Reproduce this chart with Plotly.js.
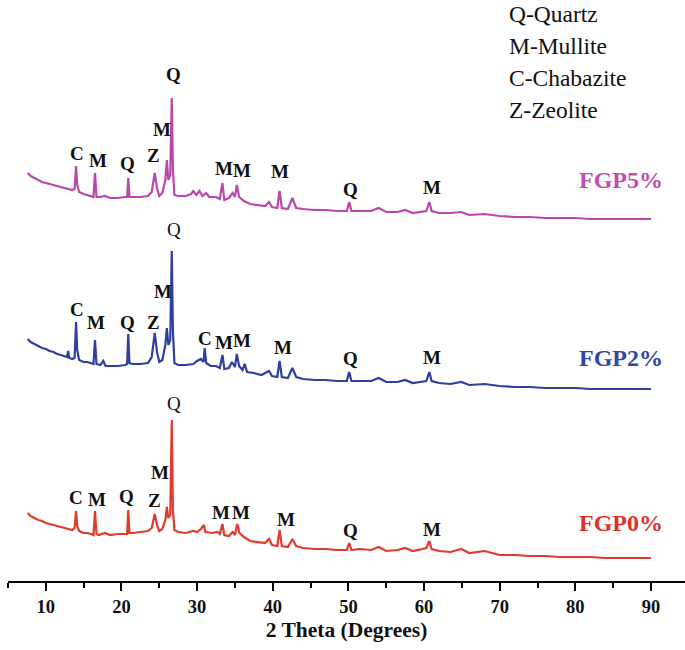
<!DOCTYPE html>
<html><head><meta charset="utf-8">
<script src="https://cdn.plot.ly/plotly-3.0.1.min.js"></script>
<style>html,body{margin:0;padding:0;background:#fff}#chart{width:685px;height:650px}</style>
</head><body><div id="chart"></div>
<script>
// ---- data (2θ in degrees, intensity in arbitrary units) ----
const xFGP0 = [7.6,8.0,8.5,9.0,9.5,10.0,10.5,11.0,11.5,12.0,12.5,13.0,13.5,13.8,14.0,14.15,14.4,15.0,15.5,16.0,16.3,16.5,16.7,17.0,17.8,18.5,19.5,20.5,20.75,20.9,21.05,21.5,22.5,23.5,24.0,24.4,24.7,25.0,25.4,25.8,26.0,26.2,26.45,26.65,26.8,27.0,27.5,28.5,29.5,30.0,30.5,30.9,31.1,32.0,32.7,33.0,33.35,33.6,34.2,34.7,35.0,35.3,35.6,36.2,37.0,38.0,39.0,39.5,39.9,40.6,40.9,41.2,42.0,42.6,43.1,44.0,45.5,47.0,48.5,49.8,50.1,50.4,51.5,53.0,54.0,55.0,56.5,57.5,58.5,59.8,60.3,60.7,61.0,62.0,63.5,64.9,66.0,68.0,70.0,72.0,74.0,76.0,78.0,80.0,82.0,84.0,86.0,88.0,90.0];
const yFGP0 = [45,42,40,38,37,35,34,33,32,31,30,29,28,30,47,32,27,25,25,24,23,47,24,23,25,23,24,24,24,48,25,25,26,27,30,44,33,27,29,38,51,40,43,138,48,28,26,25,27,26,29,33,26,25,26,24,34,23,22,26,23,34,25,21,17,16,15,19,13,12,28,12,11,19,12,10,9,9,8,8,15,8,9,8,11,7,8,10,7,9,10,17,9,7,6,9,5,7,3,3,2,2,1,1,1,0,0,0,0];

const xFGP2 = [7.6,8.0,8.5,9.0,9.5,10.0,10.5,11.0,11.5,12.0,12.5,12.8,12.95,13.1,13.5,13.8,14.0,14.15,14.4,15.0,15.5,16.0,16.3,16.5,16.7,17.2,17.6,17.9,18.5,19.5,20.5,20.75,20.9,21.05,21.5,22.5,23.5,24.0,24.4,24.7,25.0,25.4,25.8,26.0,26.2,26.45,26.65,26.8,27.0,27.5,28.5,29.5,30.0,30.5,30.85,31.0,31.2,31.8,32.5,33.0,33.35,33.6,34.2,34.6,35.0,35.25,35.55,36.0,36.3,36.6,37.5,38.5,39.5,39.9,40.6,40.9,41.2,42.0,42.6,43.1,44.0,45.5,47.0,48.5,49.8,50.1,50.4,51.5,53.0,54.0,55.0,56.5,57.5,58.5,59.8,60.3,60.7,61.0,62.0,63.5,64.9,66.0,68.0,70.0,72.0,74.0,76.0,78.0,80.0,82.0,84.0,86.0,88.0,90.0];
const yFGP2 = [50,47,45,43,41,40,38,37,35,34,33,32,38,31,30,31,67,39,29,27,27,26,25,49,25,24,28,23,23,23,24,25,55,26,25,25,26,32,56,37,27,29,44,61,44,49,138,59,26,24,24,25,28,30,27,41,26,23,23,21,34,20,21,27,22,35,23,19,25,17,16,14,18,13,12,28,12,11,21,12,10,9,9,8,8,17,8,8,8,11,7,7,9,6,7,8,17,8,6,5,7,4,5,3,2,2,1,1,1,0,0,0,0,0];

const xFGP5 = [7.6,8.0,8.5,9.0,9.5,10.0,10.5,11.0,11.5,12.0,12.5,13.0,13.5,13.8,14.0,14.15,14.4,15.0,15.5,16.0,16.3,16.5,16.7,17.2,17.8,18.5,19.5,20.5,20.75,20.9,21.05,21.5,22.5,23.5,24.0,24.4,24.7,25.0,25.4,25.8,26.0,26.2,26.45,26.65,26.8,27.0,27.5,28.5,29.2,29.5,29.9,30.3,30.7,31.2,31.6,32.5,33.0,33.35,33.6,34.2,34.7,35.0,35.25,35.55,36.2,37.0,38.0,39.0,39.5,39.9,40.6,40.9,41.2,42.0,42.6,43.1,44.0,45.5,47.0,48.5,49.8,50.1,50.4,51.5,53.0,54.0,55.0,56.5,57.5,58.5,59.8,60.3,60.7,61.0,62.0,63.5,64.9,66.0,68.0,70.0,72.0,74.0,76.0,78.0,80.0,82.0,84.0,86.0,88.0,90.0];
const yFGP5 = [46,43,41,39,37,36,35,34,33,32,31,30,29,30,53,34,27,25,24,23,22,46,22,22,23,21,21,22,22,41,22,22,22,23,27,46,31,23,26,39,59,39,44,121,49,24,23,23,25,28,24,28,23,26,22,22,20,36,19,21,26,22,34,22,18,15,14,13,17,12,11,28,11,10,21,11,10,9,9,8,8,17,8,8,8,11,7,7,9,6,7,8,17,8,6,6,7,4,5,3,2,2,1,1,1,0,0,0,0,0];

const sampleNames = ["FGP0%","FGP2%","FGP5%"];
const tickVals = [10,20,30,40,50,60,70,80,90];
const legendLines = ["Q-Quartz","M-Mullite","C-Chabazite","Z-Zeolite"];

// peak labels: [letter, 2θ, height above own baseline, bold?]
const peaksFGP0 = [["C",14.0,61,1],["M",16.7,59,1],["Q",20.7,62,1],["Z",24.4,58,1],["M",25.1,86,1],["Q",26.9,155,0],["M",33.2,46,1],["M",35.8,46,1],["M",41.7,39,1],["Q",50.3,28,1],["M",61.1,29,1]];
const peaksFGP2 = [["C",14.1,80,1],["M",16.6,67,1],["Q",20.8,67,1],["Z",24.3,67,1],["M",25.5,98,1],["Q",26.9,160,0],["C",31.0,51,1],["M",33.6,47,1],["M",36.0,49,1],["M",41.3,42,1],["Q",50.3,31,1],["M",61.0,32,1]];
const peaksFGP5 = [["C",14.1,66,1],["M",16.9,59,1],["Q",20.8,56,1],["Z",24.3,64,1],["M",25.3,90,1],["Q",26.9,145,1],["M",33.5,51,1],["M",36.0,49,1],["M",41.0,48,1],["Q",50.3,30,1],["M",61.0,32,1]];

// ---- presentation ----
const offsets = [23,192,362];
const colors = ["#e23a2e","#2f3f9f","#bb47ab"];
const labelColors = ["#e0302a","#3447a3","#bf4eb0"];
const labelY = [35,31,39];
const serif = "Liberation Serif";

const xs=[xFGP0,xFGP2,xFGP5], ys=[yFGP0,yFGP2,yFGP5], pk=[peaksFGP0,peaksFGP2,peaksFGP5];
const traces = xs.map((x,i)=>({x:x, y:ys[i].map(v=>v+offsets[i]), type:'scatter', mode:'lines',
  line:{color:colors[i], width:2.2}, hoverinfo:'skip', showlegend:false}));

const ann=[];
pk.forEach((list,i)=>list.forEach(p=>ann.push({x:p[1], y:p[2]+offsets[i], xref:'x', yref:'y',
  text:p[0], showarrow:false, font:{family:serif, size:19, color:'#111', weight:p[3]?'bold':'normal'}})));
sampleNames.forEach((n,i)=>ann.push({x:86.1, y:offsets[i]+labelY[i], xref:'x', yref:'y', text:n, showarrow:false,
  font:{family:serif, size:24, color:labelColors[i], weight:'bold'}}));
legendLines.forEach((t,i)=>ann.push({x:71.0, y:567-32*i, xref:'x', yref:'y', text:t, showarrow:false, xanchor:'left',
  font:{family:serif, size:23.5, color:'#111'}}));

const layout = {
  width:685, height:650, margin:{l:8,r:0,t:0,b:69},
  paper_bgcolor:'#fff', plot_bgcolor:'#fff',
  font:{family:serif},
  xaxis:{range:[5,94.5], tickvals:tickVals, ticks:'outside', ticklen:8, tickwidth:2, tickcolor:'#000',
    showline:true, linecolor:'#000', linewidth:2, showgrid:false, zeroline:false,
    minor:{dtick:5, tick0:0, ticks:'outside', ticklen:5, tickwidth:2, tickcolor:'#000', showgrid:false},
    tickfont:{family:serif, size:18.5, color:'#111', weight:'bold'},
    title:{text:'2 Theta (Degrees)', font:{family:serif, size:21.5, color:'#111', weight:'bold'}, standoff:6}},
  yaxis:{range:[0,581], visible:false, fixedrange:true},
  annotations:ann
};
Plotly.newPlot('chart', traces, layout, {displayModeBar:false, staticPlot:true});
</script></body></html>
